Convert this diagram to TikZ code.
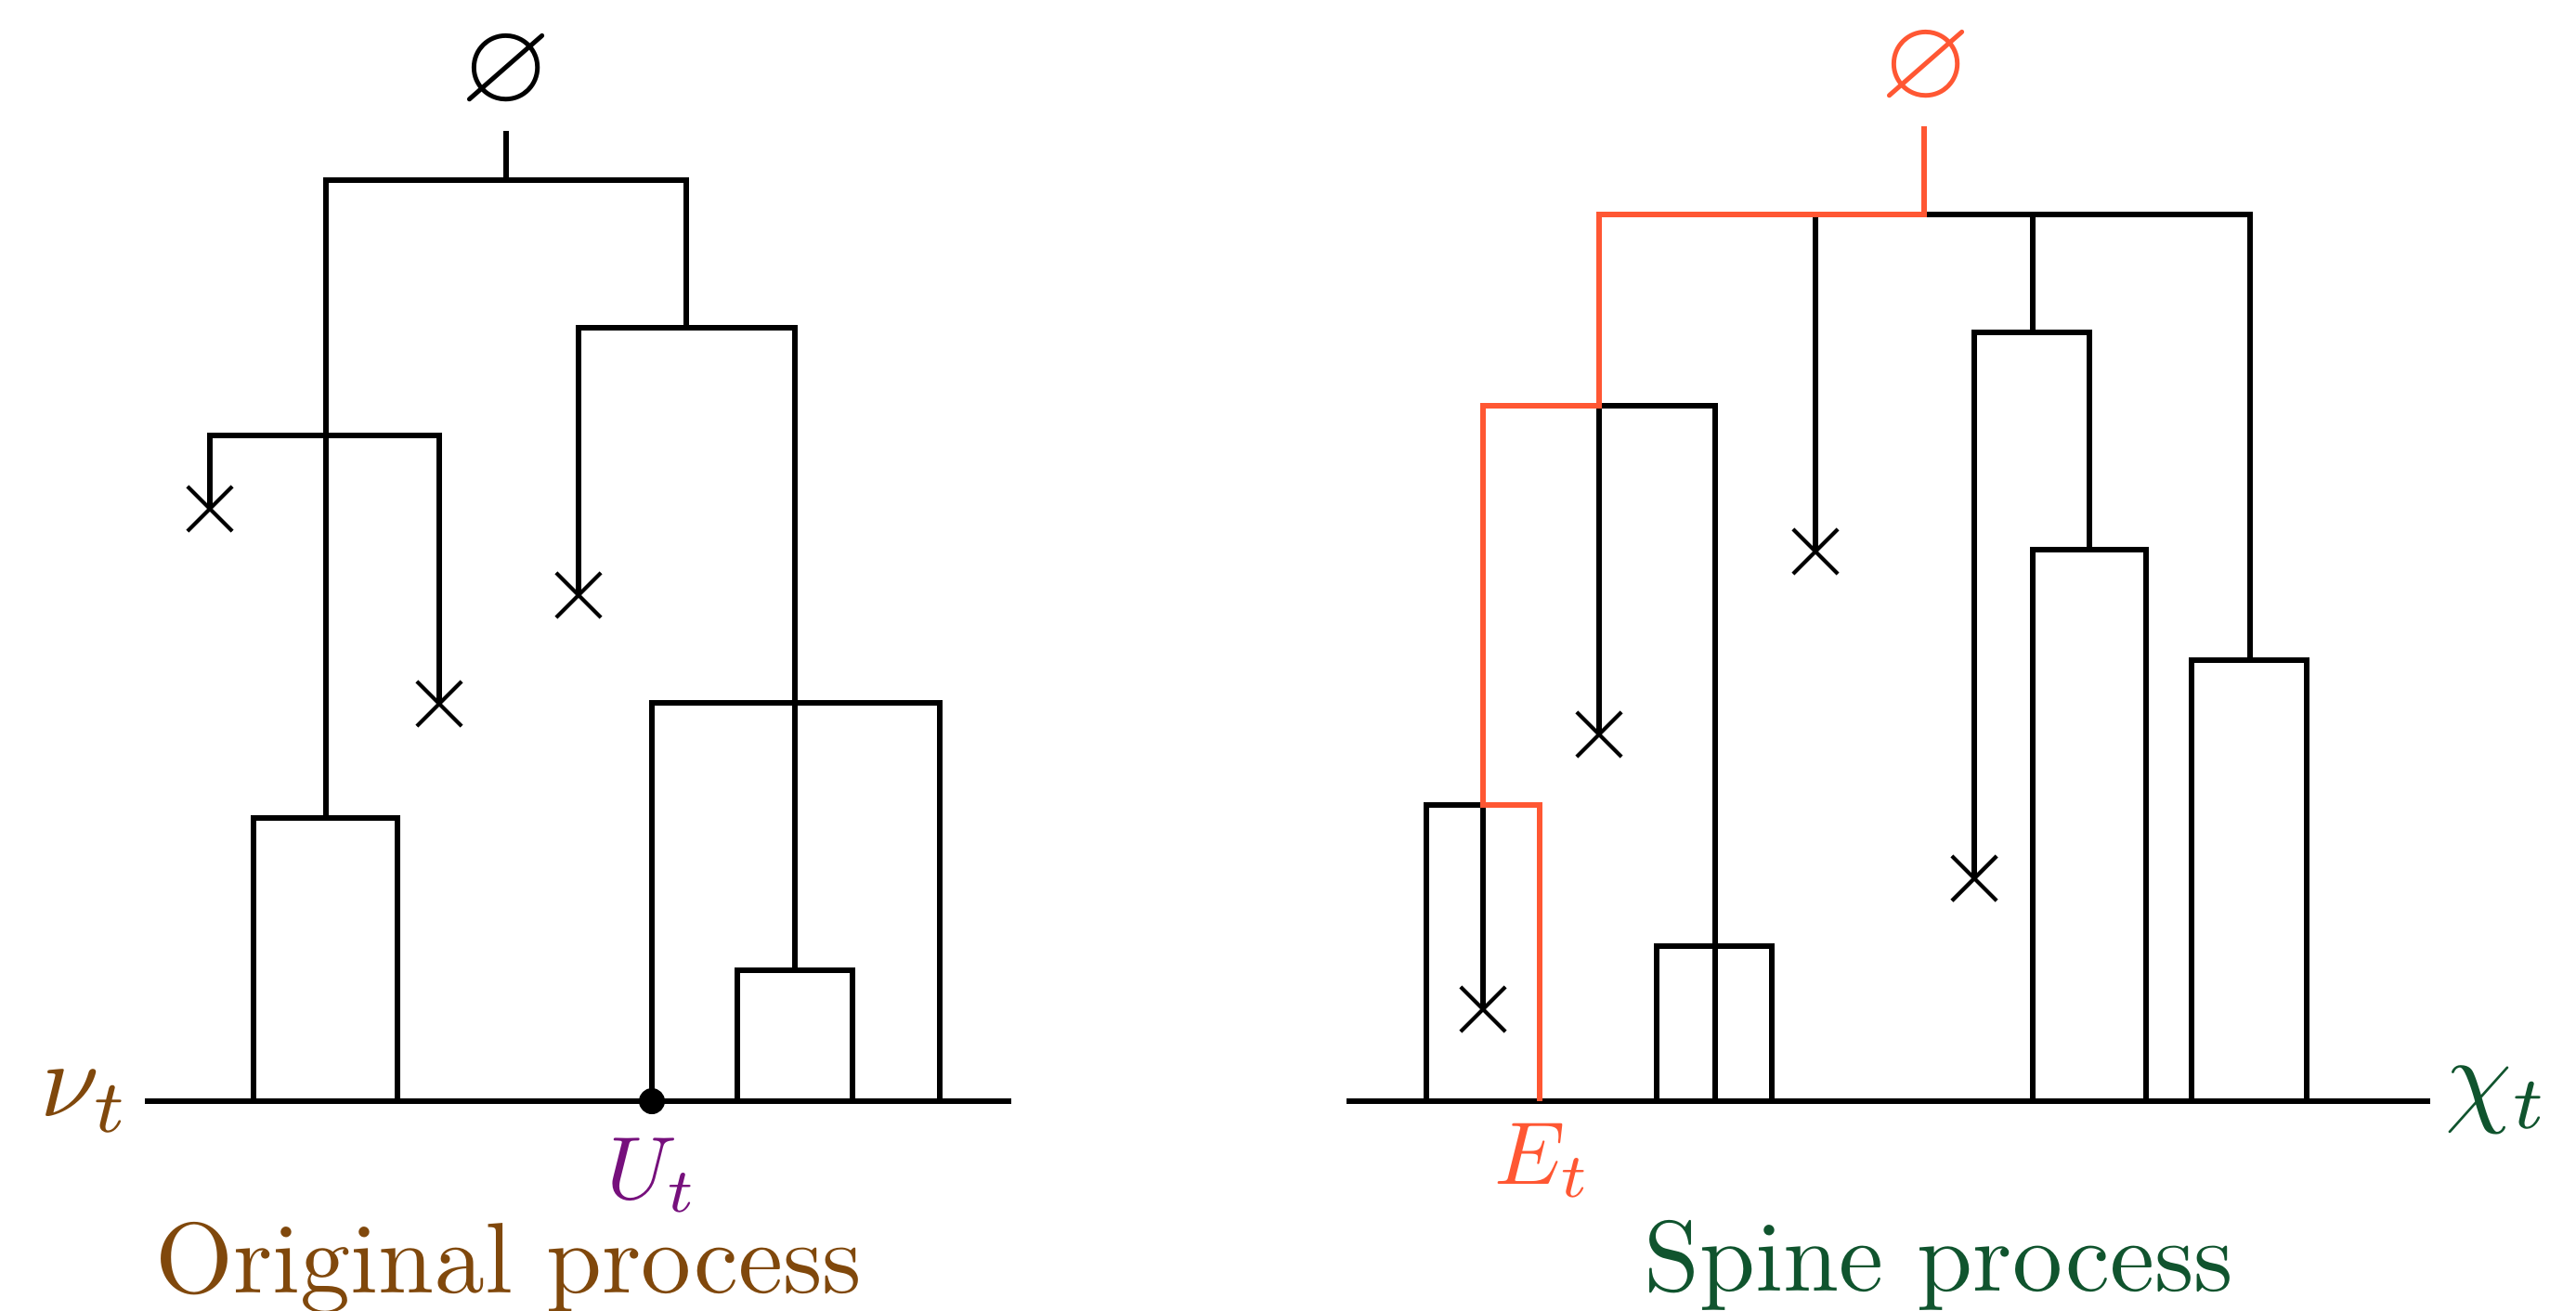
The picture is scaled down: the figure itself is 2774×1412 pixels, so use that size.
\documentclass[tikz,border=0pt]{standalone}
\usepackage{amssymb}
\usetikzlibrary{shapes.misc}
\definecolor{spinered}{RGB}{255,87,51}
\definecolor{labbrown}{RGB}{128,72,12}
\definecolor{labpurple}{RGB}{118,16,124}
\definecolor{labgreen}{RGB}{16,84,46}
\begin{document}
\begin{tikzpicture}[x=0.1pt,y=-0.1pt,line join=miter,
  tree/.style={draw=black,line width=0.55pt},
  spine/.style={draw=spinered,line width=0.55pt},
  xmk/.style={cross out,draw=black,line width=0.42pt,minimum size=4.4pt,inner sep=0pt},
  lab/.style={inner sep=0pt,anchor=base},
  big/.style={lab,scale=1.08},
  bigmath/.style={lab,scale=1.15},
  smallmath/.style={lab,scale=0.96},
  emp/.style={inner sep=0pt,scale=1.25}]
\useasboundingbox (0,0) rectangle (2774,1412);

% ---------------- left tree: original process ----------------
\node[emp] (eL) at (545,78) {$\varnothing$};
\coordinate (Ltop) at (545,141);
\coordinate (Lj) at (545,194);
\node[xmk] (x1) at (226,548) {};
\node[xmk] (x2) at (473,758) {};
\node[xmk] (x3) at (623,641) {};
\node[circle,fill=black,inner sep=0pt,minimum size=2.8pt] (ut) at (702,1186) {};

\draw[tree] (Ltop) -- (Lj);
\draw[tree] (351,881) -- (351,194) -- (739,194) -- (739,353);
% left box
\draw[tree] (273,1186) -- (273,881) -- (428,881) -- (428,1186);
% left bracket with two deaths
\draw[tree] (x1.center) -- (226,469) -- (473,469) -- (x2.center);
% right bracket
\draw[tree] (x3.center) -- (623,353) -- (856,353) -- (856,1045);
% small box
\draw[tree] (794,1186) -- (794,1045) -- (918,1045) -- (918,1186);
% wide bracket
\draw[tree] (ut.center) -- (702,757) -- (1012,757) -- (1012,1186);
% baseline
\coordinate (bl1) at (156,1186);
\coordinate (bl2) at (1089,1186);
\draw[tree] (bl1) -- (bl2);

\node[bigmath,text=labbrown] (nu) at (92,1202) {$\nu_t$};
\node[smallmath,text=labpurple] (utl) at (703,1291) {$U_t$};
\node[big,text=labbrown] (orig) at (548,1392) {Original process};

% ---------------- right tree: spine process ----------------
\node[emp,text=spinered] (eR) at (2074,74) {$\varnothing$};
\coordinate (Rtop) at (2072,136);
\coordinate (Rj) at (2072,231);
\node[xmk] (x4) at (1955,594) {};
\node[xmk] (x5) at (2126,946) {};
\node[xmk] (x6) at (1722,791) {};
\node[xmk] (x7) at (1597,1087) {};

\draw[tree] (Rj) -- (2423,231) -- (2423,711);
\draw[tree] (1955,231) -- (x4.center);
\draw[tree] (2189,231) -- (2189,358);
\draw[tree] (x5.center) -- (2126,358) -- (2250,358) -- (2250,592);
\draw[tree] (2189,1186) -- (2189,592) -- (2311,592) -- (2311,1186);
\draw[tree] (2360,1186) -- (2360,711) -- (2484,711) -- (2484,1186);
\draw[tree] (x6.center) -- (1722,437) -- (1847,437) -- (1847,1186);
\draw[tree] (1784,1186) -- (1784,1019) -- (1908,1019) -- (1908,1186);
\draw[tree] (1536,1186) -- (1536,867) -- (1597,867) -- (x7.center);
\coordinate (br1) at (1450,1186);
\coordinate (br2) at (2617,1186);
\draw[tree] (br1) -- (br2);
% spine
\draw[spine] (Rtop) -- (Rj) -- (1722,231) -- (1722,437) -- (1597,437) -- (1597,867) -- (1658,867) -- (1658,1186);

\node[bigmath,text=labgreen] (chi) at (2690,1198) {$\chi_t$};
\node[smallmath,text=spinered] (et) at (1662,1275) {$E_t$};
\node[big,text=labgreen] (spine) at (2088,1390) {Spine process};
\end{tikzpicture}
\end{document}
